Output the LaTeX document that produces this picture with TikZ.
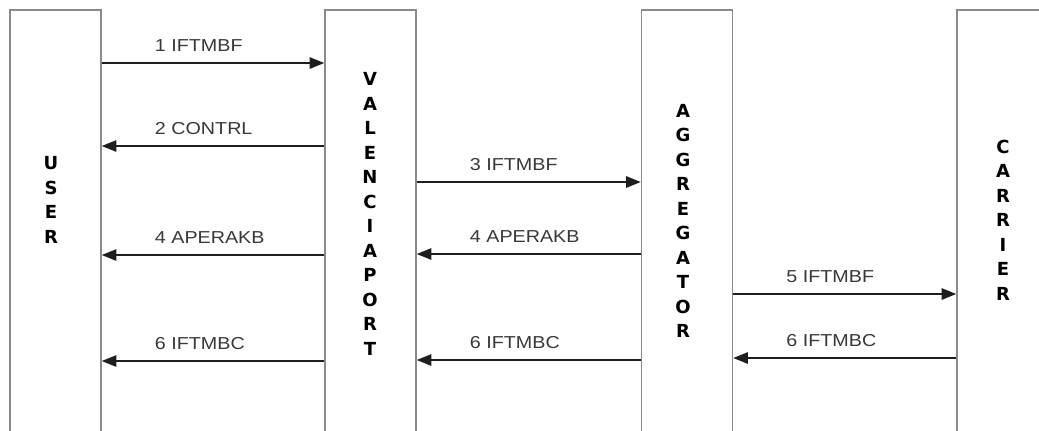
\documentclass[tikz,border=0pt]{standalone}
\usepackage{fontspec}
\setmainfont{Liberation Sans}
\newfontfamily\lanefont{DejaVu Sans}
\usetikzlibrary{arrows.meta,calc}
\definecolor{frame}{HTML}{8A8A8A}
\definecolor{ink}{HTML}{1E1E1E}
\definecolor{note}{HTML}{383838}
\tikzset{lane/.style={draw=frame,line width=.9pt,minimum width=2.275cm,minimum height=10.75cm,inner sep=0pt},
  word/.style={font=\lanefont\bfseries\fontsize{12.8}{17.4}\selectfont,align=center,inner sep=0pt},
  msg/.style={draw=ink,line width=1.5pt,-{Triangle[length=10.5pt,width=8pt]}},
  lbl/.style={text=note,font=\fontsize{12.3}{14}\selectfont,anchor=base west,inner sep=0pt,xscale=1.14,transform shape}}
\begin{document}
\begin{tikzpicture}[x=0.025cm,y=-0.025cm]
\useasboundingbox (0,0) rectangle (1039,430);
\clip (0,0) rectangle (1039,430);
\node[lane] (user) at (55.5,225) {};
\node[lane] (vp) at (370.5,225) {};
\node[lane] (agg) at (687,225) {};
\node[lane] (car) at (1002.5,225) {};
\node[word] (wuser) at (51,200) {U\\S\\E\\R};
\node[word] (wvp) at (370,214) {V\\A\\L\\E\\N\\C\\I\\A\\P\\O\\R\\T};
\node[word] (wagg) at (683,221) {A\\G\\G\\R\\E\\G\\A\\T\\O\\R};
\node[word] (wcar) at (1003,220) {C\\A\\R\\R\\I\\E\\R};
\foreach \s/\e/\l/\y/\t [count=\i] in {user.east/vp.west/user/63/1 IFTMBF,
  vp.west/user.east/user/146/2 CONTRL,vp.east/agg.west/vp/182/3 IFTMBF,
  vp.west/user.east/user/255/4 APERAKB,agg.west/vp.east/vp/254/4 APERAKB,
  agg.east/car.west/agg/294/5 IFTMBF,vp.west/user.east/user/361/6 IFTMBC,
  agg.west/vp.east/vp/360/6 IFTMBC,car.west/agg.east/agg/358/6 IFTMBC}{
 \draw[msg] (\s |- 0,\y) -- (\e |- 0,\y);
 \node[lbl] (m\i) at ($(\l.east |- 0,\y)+(53,-12)$) {\t};
}
\end{tikzpicture}
\end{document}
